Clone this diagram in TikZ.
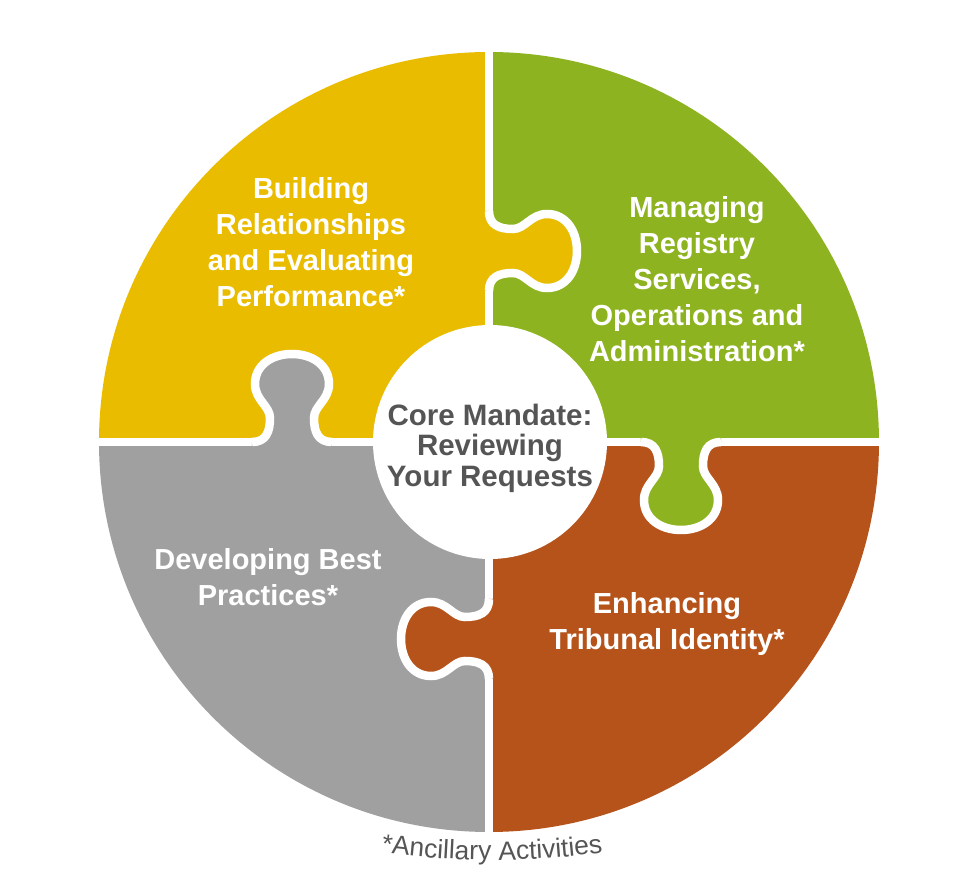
\documentclass[tikz,border=0pt]{standalone}
\usepackage{fontspec}
\setmainfont{Liberation Sans}
\usetikzlibrary{decorations.text}
\definecolor{pyellow}{RGB}{233,188,0}
\definecolor{pgreen}{RGB}{141,179,33}
\definecolor{porange}{RGB}{181,83,26}
\definecolor{pgray}{RGB}{160,160,160}
\definecolor{ptext}{RGB}{85,85,85}
\newcommand{\piecefont}{\fontsize{29}{36}\selectfont\bfseries}
\newcommand{\corefont}{\fontsize{29.5}{30.5}\selectfont\bfseries}
\newcommand{\ancfont}{\fontsize{26.5}{30}\selectfont}
\tikzset{
  knobpath/.style={insert path={(-40,0) .. controls (-26,0) and (-22,10) .. (-22,24)
    .. controls (-22,36) and (-37,42) .. (-37,58)
    .. controls (-37,77) and (-20,88) .. (0,88)
    .. controls (20,88) and (37,77) .. (37,58)
    .. controls (37,42) and (22,36) .. (22,24)
    .. controls (22,10) and (26,0) .. (40,0)}},
  gapline/.style={draw=white, line width=8.5},
  piecetext/.style={text=white, align=center, font=\piecefont},
}
\begin{document}
\begin{tikzpicture}[x=1pt,y=1pt]
\useasboundingbox (-489,-446) rectangle (489,442);
% quadrants
\fill[pyellow] (0,0) -- (0,390) arc[start angle=90, end angle=180, radius=390] -- cycle;
\fill[pgreen] (0,0) -- (390,0) arc[start angle=0, end angle=90, radius=390] -- cycle;
\fill[porange] (0,0) -- (0,-390) arc[start angle=270, end angle=360, radius=390] -- cycle;
\fill[pgray] (0,0) -- (-390,0) arc[start angle=180, end angle=270, radius=390] -- cycle;
% straight gaps
\draw[gapline] (0,400) -- (0,-400);
\draw[gapline] (-400,0) -- (400,0);
% knobs
\begin{scope}[shift={(0,191)}, rotate=-90]
  \fill[pyellow, knobpath] -- (40,-6) -- (-40,-6) -- cycle;
  \draw[gapline, knobpath];
\end{scope}
\begin{scope}[shift={(-197,0)}]
  \fill[pgray, knobpath] -- (40,-6) -- (-40,-6) -- cycle;
  \draw[gapline, knobpath];
\end{scope}
\begin{scope}[shift={(192,0)}, rotate=180]
  \fill[pgreen, knobpath] -- (40,-6) -- (-40,-6) -- cycle;
  \draw[gapline, knobpath];
\end{scope}
\begin{scope}[shift={(0,-197)}, rotate=90]
  \fill[porange, knobpath] -- (40,-6) -- (-40,-6) -- cycle;
  \draw[gapline, knobpath];
\end{scope}
% center
\node[circle, fill=white, minimum size=234, inner sep=0] (core) at (1,0) {};
\node[text=ptext, align=center, font=\corefont] (coretext) at (1,-6) {Core Mandate:\\Reviewing\\Your Requests};
% piece texts
\node[piecetext] (tyellow) at (-178,200) {Building\\Relationships\\and Evaluating\\Performance*};
\node[piecetext] (tgreen) at (208,163) {Managing\\Registry\\Services,\\Operations and\\Administration*};
\node[piecetext] (tgray) at (-221,-135) {Developing Best\\Practices*};
\node[piecetext] (torange) at (178,-182) {Enhancing\\Tribunal Identity*};
% footnote along arc
\path[decorate, decoration={text along path, text={|\ancfont|*Ancillary Activities}, text align=center, text color=ptext}]
  (3,402) ++(260:820) arc[start angle=260, end angle=280, radius=820];
\end{tikzpicture}
\end{document}
